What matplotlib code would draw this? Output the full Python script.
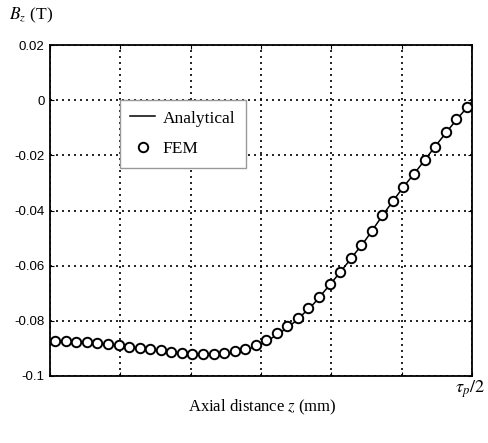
import matplotlib
matplotlib.use("Agg")
import matplotlib.pyplot as plt

# FEM sample points (axial position in grid units, 6 units = tau_p/2)
fem_z = [0.075, 0.225, 0.375, 0.525, 0.675, 0.825, 0.975, 1.125, 1.275, 1.425,
         1.575, 1.725, 1.875, 2.025, 2.175, 2.325, 2.475, 2.625, 2.775, 2.925,
         3.075, 3.225, 3.375, 3.525, 3.675, 3.825, 3.975, 4.125, 4.275, 4.425,
         4.575, 4.725, 4.875, 5.025, 5.175, 5.325, 5.475, 5.625, 5.775, 5.925]
fem_bz = [-0.0872, -0.0872, -0.0876, -0.0876, -0.0879, -0.0883, -0.0888, -0.0894, -0.0899, -0.0902,
          -0.0907, -0.0912, -0.0916, -0.0919, -0.0920, -0.0920, -0.0916, -0.0911, -0.0901, -0.0888,
          -0.0870, -0.0845, -0.0819, -0.0791, -0.0755, -0.0713, -0.0668, -0.0622, -0.0574, -0.0525,
          -0.0474, -0.0417, -0.0365, -0.0314, -0.0266, -0.0217, -0.0169, -0.0117, -0.0070, -0.0026]

# Analytical curve
ana_z = [0, 0.25, 0.5, 0.75, 1.0, 1.25, 1.5, 1.75, 2.0, 2.25, 2.5, 2.75, 3.0,
         3.25, 3.5, 3.75, 4.0, 4.25, 4.5, 4.75, 5.0, 5.25, 5.5, 5.75, 6.0]
ana_bz = [-0.0873, -0.0875, -0.0878, -0.0883, -0.0890, -0.0898, -0.0905, -0.0913, -0.0920,
          -0.0924, -0.0922, -0.0910, -0.0885, -0.0848, -0.0800, -0.0738, -0.0663, -0.0584,
          -0.0502, -0.0410, -0.0323, -0.0243, -0.0160, -0.0080, -0.0005]

yticks = [0.02, 0, -0.02, -0.04, -0.06, -0.08, -0.1]
ytick_labels = ["0.02", "0", "-0.02", "-0.04", "-0.06", "-0.08", "-0.1"]
xticks = [0, 1, 2, 3, 4, 5, 6]

plt.rcParams['mathtext.fontset'] = 'stix'
serif = ['Liberation Serif', 'DejaVu Serif']
sans = ['Liberation Sans', 'DejaVu Sans']

fig = plt.figure(figsize=(4.89, 4.43), dpi=100)
ax = fig.add_axes([50/489, 1-376/443, 422/489, 331/443])

ax.plot(ana_z, ana_bz, color='black', lw=1.1, label='Analytical', zorder=3)
ax.plot(fem_z, fem_bz, linestyle='none', marker='o', markersize=6.8,
        markerfacecolor='white', markeredgecolor='black', markeredgewidth=1.4,
        label='FEM', zorder=4)

ax.set_xlim(0, 6)
ax.set_ylim(-0.1, 0.02)
ax.set_xticks(xticks)
ax.set_xticklabels([])
ax.set_yticks(yticks)
ax.set_yticklabels(ytick_labels, family=sans, fontsize=9.5)
ax.tick_params(direction='in', length=3, width=0.8, right=True, top=True, pad=4)
ax.grid(True, color='black', linestyle=(0, (1.2, 2.4)), linewidth=1.2)
for s in ax.spines.values():
    s.set_linewidth(1.3)

leg = ax.legend(loc='upper left', bbox_to_anchor=(70/422, 1-55/331),
                prop={'family': serif, 'size': 12.5}, frameon=True,
                fancybox=False, borderaxespad=0, handlelength=1.4,
                handletextpad=0.45, labelspacing=0.85, borderpad=0.6)
leg.get_frame().set_edgecolor('#999999')
leg.get_frame().set_linewidth(1.0)
leg.get_frame().set_alpha(1)

fig.text(9/489, 1-15/443, r'$B_z$ (T)', family=serif, fontsize=12.5,
         ha='left', va='center')
fig.text(262/489, 1-407/443, r'Axial distance $z$ (mm)', family=serif,
         fontsize=12, ha='center', va='center')
fig.text(470/489, 1-389/443, r'$\tau_p/2$', family=serif, fontsize=13,
         ha='center', va='center')

fig.savefig('out.png', dpi=100)
